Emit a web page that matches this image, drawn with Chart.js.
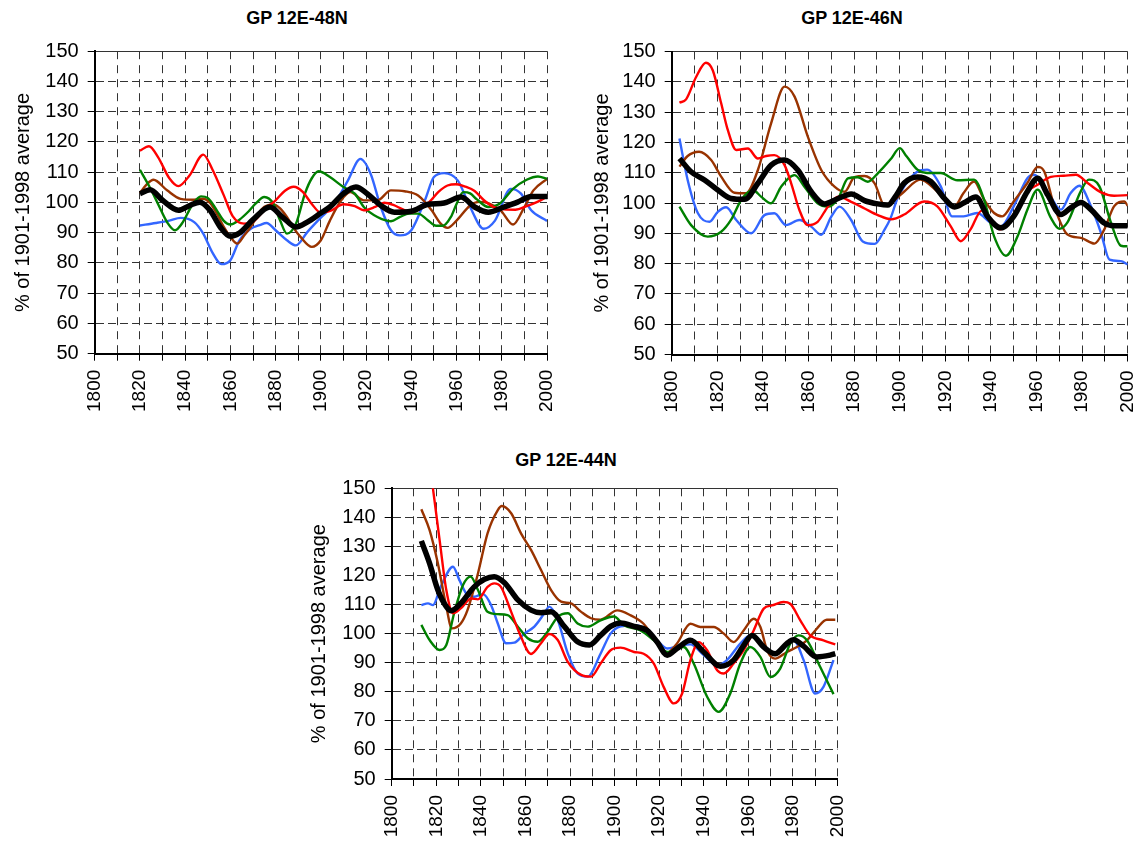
<!DOCTYPE html>
<html>
<head>
<meta charset="utf-8">
<script src="https://cdn.jsdelivr.net/npm/chart.js@4"></script>
<style>
  body { margin: 0; background: #fff; width: 1137px; height: 843px; position: relative; overflow: hidden;
         font-family: "Liberation Sans", Arial, sans-serif; }
  .panel { position: absolute; }
  .ttl { position: absolute; font-weight: bold; font-size: 18px; line-height: 20px;
         transform: translateX(-50%); white-space: nowrap; color: #000; }
</style>
</head>
<body>
<div class="ttl" id="t1"></div>
<div class="ttl" id="t2"></div>
<div class="ttl" id="t3"></div>
<div class="panel" id="b1"><canvas id="c1"></canvas></div>
<div class="panel" id="b2"><canvas id="c2"></canvas></div>
<div class="panel" id="b3"><canvas id="c3"></canvas></div>
<script>
'use strict';

//*********** data: [year, % of 1901-1998 average] ***********
const titles = ['GP 12E-48N', 'GP 12E-46N', 'GP 12E-44N'];
const yAxisTitle = '% of 1901-1998 average';
const yTicks = [50, 60, 70, 80, 90, 100, 110, 120, 130, 140, 150];
const xTicks = [1800, 1820, 1840, 1860, 1880, 1900, 1920, 1940, 1960, 1980, 2000];

// GP 12E-48N
const p1Red = [[1820,117.1],[1824,118.6],[1828,115],[1833,108],[1837,105.4],[1842,109],[1848,115.8],[1852,111],[1857,102.5],[1861,95.5],[1866,93],[1870,93.6],[1875,97.5],[1880,100.7],[1884,103.8],[1888,105.2],[1892,103.5],[1896,99.5],[1900,96.6],[1905,97.5],[1910,99.4],[1915,98.8],[1919,97.4],[1924,98.5],[1928,99.9],[1932,99.2],[1936,97.8],[1940,96.7],[1944,98],[1948,100.2],[1952,103.5],[1956,105.6],[1960,106],[1964,105.2],[1968,103.8],[1972,100.8],[1976,98.6],[1981,97.7],[1986,97.6],[1991,98.8],[1996,100.3],[2000,101.9]];
const p1Green = [[1820,110.8],[1824,105.5],[1828,99.5],[1832,93.5],[1835.5,90.8],[1839,93.5],[1843,99],[1847,102],[1850,101.5],[1854,97.4],[1857,94],[1860,92.7],[1864,94.3],[1868,97],[1871,99.5],[1875,101.8],[1879,99.6],[1882,94],[1885,89.7],[1889,93],[1893,103],[1896,108],[1899,110.3],[1904,108.4],[1910,105.1],[1915,102.9],[1919,98.5],[1925,95.2],[1931,93.8],[1935,95.2],[1939,96.3],[1943,96.3],[1947,94.3],[1951,92.3],[1954,92.3],[1957.5,95.2],[1960,99.5],[1963,103.4],[1966,103],[1969,101],[1974,98.5],[1979,99.6],[1985,104.5],[1991,107.5],[1996,108.6],[2000,107.8]];
const p1Brown = [[1820,103.1],[1823,106],[1826,107.5],[1832,104],[1838,101.2],[1844,100.9],[1848,101.2],[1851,99.8],[1854,96.3],[1857,92],[1860,88.6],[1863,86.4],[1866,89],[1869,91.9],[1874,97.9],[1879,99.3],[1882,98],[1885,95.2],[1888,91.5],[1891,88.6],[1896,85.3],[1900,87.5],[1904,94],[1909,100.7],[1913,103.4],[1919,100.7],[1925,100.7],[1931,104],[1937,103.7],[1943,102.3],[1949,97.4],[1953,93],[1956,91.6],[1960,94],[1966,99],[1970,100.2],[1974,99.8],[1979.5,97.4],[1985,92.7],[1990,98.5],[1994,104],[2000,107.8]];
const p1Blue = [[1820,92.4],[1827,93.2],[1833,94],[1838,94.9],[1844,93.5],[1848,89.7],[1852,83.5],[1856,79.6],[1860,80.9],[1864,87.5],[1869,91.3],[1873,92.5],[1876,93.2],[1880,90.8],[1885,87.5],[1889,85.8],[1894,90.2],[1900,95],[1906,99.6],[1912,107.3],[1917.5,114.4],[1922,109.5],[1926.5,98.5],[1931,90.8],[1935,89.1],[1940,90.8],[1946,100.7],[1950,108.4],[1954.5,109.7],[1960.5,107.3],[1966,98.5],[1972,91.3],[1977,94],[1984,104.5],[1988.5,102.9],[1993,97.4],[2000,93.9]];
const p1Black = [[1820,102.9],[1824.5,104.2],[1830,100.7],[1837,97.4],[1842,99],[1846.5,100.1],[1851,97.4],[1855.5,91.9],[1860,88.8],[1864,89.9],[1870,94.3],[1877.5,98.5],[1883,95.2],[1889,91.9],[1894,93.5],[1900,96.5],[1904,98.5],[1910,102.9],[1915.5,105.1],[1920.5,102.9],[1926.5,99],[1932.5,96.8],[1940,97.1],[1947,99.3],[1954.5,99.8],[1962,101.8],[1968,98.5],[1974,96.8],[1981,98.5],[1987,100.1],[1993,102],[2000,102]];

// GP 12E-46N
const p2Red = [[1803.4,133.1],[1806.3,134.2],[1810.7,141.6],[1815,146.3],[1818,143.8],[1821.7,132.9],[1824.6,124.1],[1828.3,117.5],[1833.4,118],[1837.8,114.7],[1841.4,115.5],[1845,115.8],[1849.5,112.5],[1852.4,106.5],[1856,97.7],[1859.7,92.7],[1864,93.8],[1868.5,98.8],[1873,102.1],[1878.7,100.4],[1884.6,98.2],[1890.4,96],[1896.3,94.6],[1902,96.2],[1910.7,100.5],[1916.5,98.9],[1922.4,92.3],[1926.8,87.4],[1931,91.2],[1936,97.5],[1940,94.5],[1944,91.3],[1948,94],[1952,99],[1956,103.8],[1960.5,106],[1966.3,108.6],[1972,109],[1977.3,109.3],[1982.4,106.6],[1988.3,103.5],[1994,102.4],[2000,102.6]];
const p2Green = [[1803.4,98.8],[1808.5,92.7],[1815.8,88.9],[1821.7,90.5],[1826,94.4],[1830.5,101],[1835.6,104.3],[1839.2,102.1],[1843.6,99.9],[1848,105.4],[1853.9,109.2],[1858.2,105.4],[1864,99.9],[1868.5,98.8],[1873,101.5],[1877.3,108.1],[1881.6,108.5],[1886,107],[1890.4,109.8],[1896.3,114.7],[1900,118.1],[1903,115.4],[1907.8,111],[1912,109.9],[1918,109.9],[1925.3,107.5],[1932.6,107.7],[1937,101.1],[1941.4,89],[1946.6,82.6],[1951.7,89],[1956,97.8],[1960.5,104.4],[1966,95.5],[1970,91.5],[1973.5,93.5],[1979.5,104],[1983,107.7],[1987.6,105.5],[1992.7,93.4],[1997,85.9],[2000,85.7]];
const p2Brown = [[1803.4,112],[1807,115.5],[1812,116.9],[1817.3,114.2],[1821.7,108.7],[1827.5,103.4],[1832.6,103.2],[1837.8,110.9],[1843.6,126.3],[1849.5,138.4],[1853.9,135.1],[1859.7,121.9],[1865.6,110.9],[1871.4,105.4],[1875.8,103.7],[1880.2,108.5],[1884.6,108.9],[1889,106.5],[1893.3,99.3],[1897.7,101],[1902,103.8],[1909,107.7],[1916.5,103.8],[1924,98.9],[1928,103.3],[1932.6,107.1],[1937,101.1],[1941.4,96.7],[1945,95.6],[1950,100.5],[1956,106.6],[1960.5,111.9],[1963.4,110.4],[1967.8,98.9],[1973.6,89.6],[1979.5,88.5],[1985.4,86.6],[1989.7,91.2],[1994,98.9],[1998.5,100.5],[2000,99.1]];
const p2Blue = [[1803.4,121.3],[1807,107.6],[1811.5,96.6],[1816.6,93.8],[1820.2,97.1],[1823.9,98.6],[1828.3,94.4],[1834.9,90],[1840.7,96],[1845,96.6],[1850.2,92.7],[1856,94.4],[1861.2,92.2],[1865.6,89.5],[1870,95.5],[1873.6,98.8],[1878.7,94.4],[1883.8,87.3],[1889,86.5],[1893.3,91.1],[1896,95],[1899,101.5],[1902,105.5],[1907.8,110.4],[1912,111],[1918,105.5],[1923,95.6],[1928,95.6],[1934,96.7],[1940,93.4],[1944.4,92.3],[1950,98.9],[1956,108.2],[1959,109.3],[1964.9,103.8],[1970.7,97.8],[1975,103.3],[1978.8,105.7],[1983.9,98.9],[1988.3,90.1],[1992,81.3],[1997,80.8],[2000,79.7]];
const p2Black = [[1803.4,114.7],[1808.5,110.3],[1814.4,107.6],[1820.2,104.3],[1826,101.5],[1832,101.2],[1837.8,106.5],[1843.6,112.5],[1849.5,114.2],[1855.3,110.9],[1861.2,103.7],[1867,99.7],[1873,101.5],[1878.7,103],[1884.6,100.8],[1890.4,99.7],[1894.8,99.3],[1898,102],[1902,106.6],[1907.8,108.6],[1913.6,107.1],[1919.5,101.6],[1924,98.7],[1928,100],[1933.4,102],[1938.5,95.6],[1944.4,91.8],[1950,95.6],[1956,103.8],[1960.5,108.2],[1964.9,102.7],[1970.7,96.2],[1975,98.4],[1979.5,100.2],[1983.9,97.8],[1989.7,93.4],[1994,92.5],[2000,92.5]];

// GP 12E-44N
const p3Red = [[1813,185],[1816,166],[1818.5,150],[1821.5,132.2],[1824.5,115],[1827.5,107],[1831,108.7],[1835.7,112.1],[1838.7,111.8],[1843,116.1],[1846,117.3],[1849,116.1],[1853.6,107.5],[1858,98.9],[1862.5,93],[1867,96.7],[1870.7,99.9],[1874.5,97.8],[1879,90.3],[1885,85.8],[1889.4,85.2],[1893.7,89.7],[1898.2,94.3],[1902.7,95.2],[1908.7,93.7],[1913,93.1],[1917.6,89.7],[1922,81.7],[1926.6,76],[1930.3,79.4],[1934,90.9],[1937.8,97.1],[1941.5,94.3],[1946,87.4],[1949,86.3],[1953.4,89.7],[1957.9,94.3],[1962.4,101.1],[1966.9,108.6],[1970.6,109.7],[1975.8,110.9],[1978.8,110.3],[1983.3,104.6],[1987.8,99.4],[1993.7,97.7],[1999,96.3]];
const p3Green = [[1813.3,103],[1817,97.8],[1821.5,94.4],[1824.5,96.1],[1828,107],[1832,116.7],[1835.4,119.6],[1838.7,115],[1843,107.5],[1847.6,106.7],[1852,106.4],[1856.6,102.4],[1861,98.4],[1865.5,97.2],[1870,100.7],[1874.5,105.8],[1879,107],[1883.4,103.5],[1887.9,102.4],[1893.7,104.6],[1899.7,105.9],[1904.2,102.9],[1911.6,101.1],[1917.6,97.7],[1923.6,93.7],[1931,95.4],[1935.5,89.7],[1941.5,78.3],[1946.7,73.1],[1951.9,79.4],[1956.4,89.7],[1960.9,95.4],[1965.4,92],[1969.9,85.1],[1974.3,88],[1978.8,96.6],[1982.5,99.4],[1986.3,97.7],[1992.2,88.6],[1998.2,79.2]];
const p3Brown = [[1813.3,142.8],[1817,135.6],[1820.7,124.2],[1824.5,109.3],[1827,101.8],[1831,103.5],[1834,108.1],[1838.7,120.7],[1843,134.5],[1847.6,142.5],[1849.4,143.9],[1853.6,141.4],[1858,134.5],[1862.5,128.8],[1867,121.9],[1871.5,115],[1876,111],[1880.4,110.4],[1885,107.5],[1889.4,105.3],[1893.7,104.8],[1901.2,108],[1907.2,106.3],[1913,103.4],[1918.4,97.7],[1922.8,93.1],[1928,96.6],[1934,103.4],[1938.5,102.3],[1944.5,102.3],[1949,100],[1953.4,97.1],[1957.9,101.1],[1962.4,105.1],[1965.4,102.3],[1968.4,94.3],[1972,91.4],[1977.3,93.7],[1981.8,95.4],[1986.3,97.7],[1990.7,101.7],[1995.2,104.8],[1999,104.8]];
const p3Blue = [[1813.3,109.8],[1816.3,110.4],[1818.5,109.8],[1822,116.1],[1827.5,123],[1830.4,118.4],[1834,113.3],[1837,112.7],[1841,113.6],[1844.6,109.8],[1847.6,103.5],[1851.3,96.7],[1855,96.9],[1859.6,100.1],[1864,102.4],[1868.5,107],[1870.7,109.3],[1874.5,104.7],[1879,93.2],[1883.4,86.3],[1887.9,85.2],[1893.7,93.1],[1898.2,100],[1902.7,102.5],[1908.7,102.9],[1914.6,101.4],[1919.1,97.7],[1923.6,94.9],[1929.6,96],[1934,96.3],[1940,92.6],[1946,89.1],[1950.4,90.9],[1956.4,96.6],[1960.9,99.4],[1965.4,96.6],[1970.6,93.1],[1975.8,94.9],[1980.3,97.7],[1984.8,90.9],[1990,79.4],[1993.7,81.7],[1998.2,90.9]];
const p3Black = [[1813.3,131.9],[1817,124.2],[1820.7,115],[1824.5,109.3],[1826.7,107.9],[1831,110.4],[1837,116.1],[1841.6,118.7],[1846,119.6],[1850.6,117.5],[1856.6,111.6],[1862.5,108.1],[1867,107.2],[1871.5,107.5],[1877.5,102.4],[1883.4,97.2],[1888.7,96.1],[1893.7,99.4],[1898.2,102.5],[1902.7,103.7],[1908.7,102.5],[1914.6,101.1],[1919.1,97.1],[1923.6,92.6],[1928,94.9],[1934,97.7],[1940,93.7],[1947.5,88.8],[1953.4,90.9],[1957.9,96],[1961.6,99.4],[1966.9,95.4],[1972,93.1],[1977.3,96.6],[1980.3,97.9],[1984.8,95.7],[1990.7,92],[1996.7,92.6],[1999,93.1]];

//*********** layout (page pixels) ***********
const panels = [
  { canvas: 'c1', box: 'b1', title: 't1', text: titles[0], boxL: 0, boxT: 0, boxW: 565, boxH: 425,
    plotL: 94.7, plotT: 51.2, plotR: 547, plotB: 353.7, titleX: 297, titleY: 18, yTitleX: 23,
    series: [p1Black, p1Red, p1Green, p1Brown, p1Blue] },
  { canvas: 'c2', box: 'b2', title: 't2', text: titles[1], boxL: 575, boxT: 0, boxW: 562, boxH: 425,
    plotL: 671.7, plotT: 51.5, plotR: 1127.7, plotB: 354.5, titleX: 852, titleY: 18, yTitleX: 602,
    series: [p2Black, p2Red, p2Green, p2Brown, p2Blue] },
  { canvas: 'c3', box: 'b3', title: 't3', text: titles[2], boxL: 290, boxT: 435, boxW: 560, boxH: 408,
    plotL: 391.7, plotT: 488.3, plotR: 837.5, plotB: 779, titleX: 566, titleY: 460, yTitleX: 319,
    series: [p3Black, p3Red, p3Green, p3Brown, p3Blue] }
];

// black first so it is drawn on top
const lineColors = ['#000000', '#ff0000', '#008000', '#993300', '#3366ff'];
const lineWidths = [5.5, 2.4, 2.4, 2.4, 2.4];
const xAxisHeight = 62;
const fontFamily = '"Liberation Sans", Arial, sans-serif';

function makePanel(p) {
  let box = document.getElementById(p.box);
  box.style.left = p.boxL + 'px';
  box.style.top = p.boxT + 'px';
  let canvas = document.getElementById(p.canvas);
  canvas.width = p.boxW;
  canvas.height = p.boxH;
  canvas.style.width = p.boxW + 'px';
  canvas.style.height = p.boxH + 'px';

  let t = document.getElementById(p.title);
  t.textContent = p.text;
  t.style.left = p.titleX + 'px';
  t.style.top = (p.titleY - 10) + 'px';

  let datasets = p.series.map((s, i) => ({
    data: s.map(pt => ({ x: pt[0], y: pt[1] })),
    borderColor: lineColors[i],
    borderWidth: lineWidths[i],
    pointRadius: 0,
    fill: false,
    cubicInterpolationMode: 'monotone'
  }));

  new Chart(canvas, {
    type: 'line',
    data: { datasets: datasets },
    options: {
      responsive: false,
      animation: false,
      devicePixelRatio: 1,
      layout: {
        padding: {
          left: 0,
          top: p.plotT - p.boxT,
          right: p.boxL + p.boxW - p.plotR,
          bottom: p.boxT + p.boxH - p.plotB - xAxisHeight
        }
      },
      plugins: { legend: { display: false }, tooltip: { enabled: false } },
      scales: {
        x: {
          type: 'linear',
          min: xTicks[0],
          max: xTicks[xTicks.length - 1],
          ticks: {
            stepSize: 10,
            autoSkip: false,
            minRotation: 90,
            maxRotation: 90,
            padding: 9,
            color: '#000',
            font: { family: fontFamily, size: 19 },
            callback: v => (xTicks.includes(v) ? String(v) : '')
          },
          grid: { color: '#333', lineWidth: 1, tickLength: 7, tickColor: '#000' },
          border: { color: '#000', width: 2, dash: [8, 6] },
          afterFit: s => {
            s.height = xAxisHeight;
            s.paddingLeft = 0;
            s.paddingRight = 0;
          }
        },
        y: {
          min: yTicks[0],
          max: yTicks[yTicks.length - 1],
          ticks: {
            stepSize: 10,
            padding: 9,
            color: '#000',
            font: { family: fontFamily, size: 20 },
            callback: v => (yTicks.includes(v) ? String(v) : '')
          },
          grid: { color: '#333', lineWidth: 1, tickLength: 7, tickColor: '#000' },
          border: {
            color: '#000',
            width: 2,
            // the 150 line is the solid top edge of the plot
            dash: ctx => (ctx.tick && ctx.tick.value === 150 ? [] : [8, 4])
          },
          title: {
            display: true,
            text: yAxisTitle,
            color: '#000',
            font: { family: fontFamily, size: 20 },
            padding: { top: p.yTitleX - p.boxL - 12, bottom: 0 }
          },
          afterFit: s => {
            s.width = p.plotL - p.boxL;
            s.paddingTop = 0;
            s.paddingBottom = 0;
          }
        }
      }
    }
  });
}

panels.forEach(makePanel);
</script>
</body>
</html>
